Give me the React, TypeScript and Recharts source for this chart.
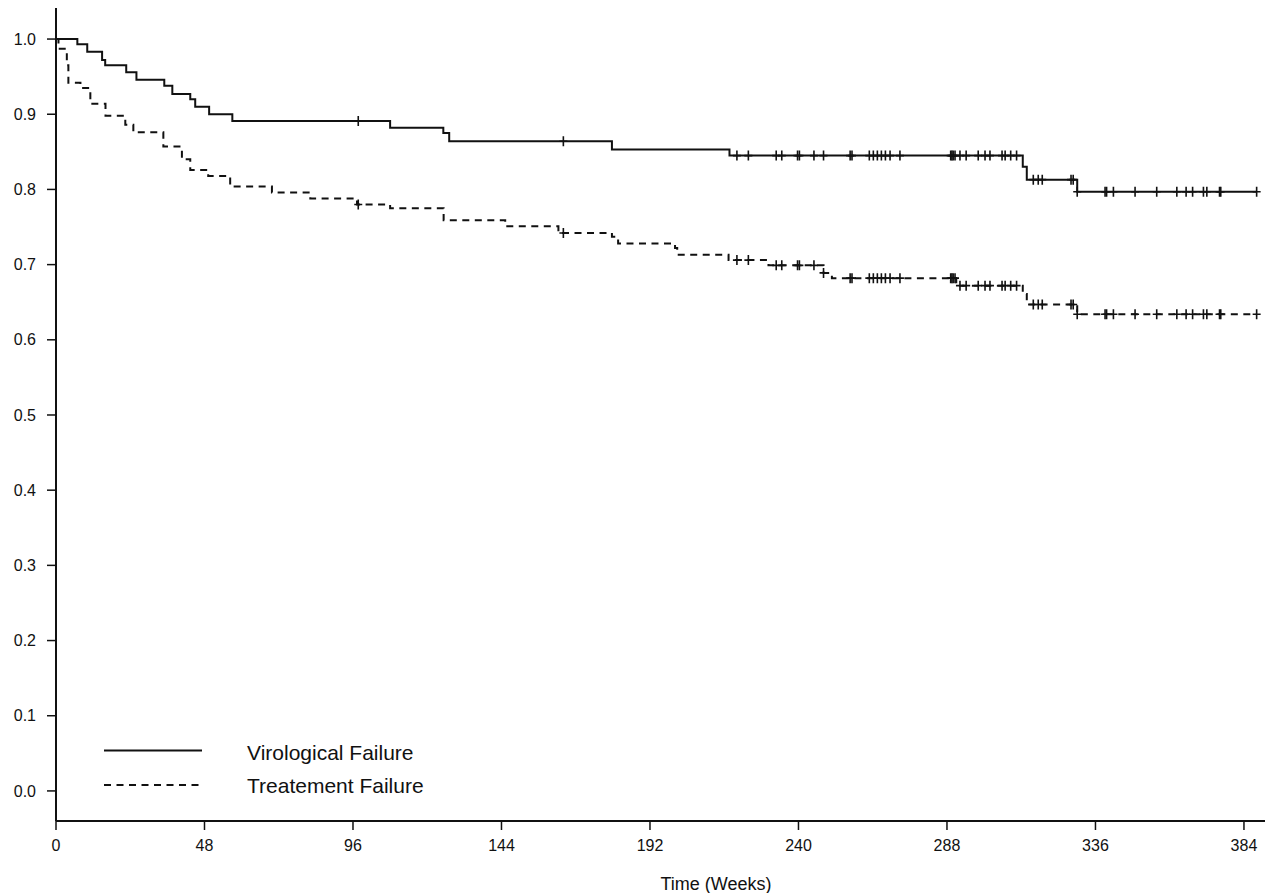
import React from "react";
import { ComposedChart, Line, Scatter, XAxis, YAxis } from "recharts";

// Virological Failure (solid) – Kaplan–Meier step points
const vfTimes = [0, 6.9, 10.1, 14.9, 15.9, 22.7, 26.0, 35.0, 37.6, 43.4, 45.0, 49.5, 57.0, 108.0, 125.2, 127.1, 179.7, 217.7, 312.5, 313.8, 330.1, 388.1];
const vfSurv = [1.0, 0.993, 0.983, 0.972, 0.965, 0.956, 0.946, 0.938, 0.927, 0.92, 0.91, 0.9, 0.891, 0.882, 0.875, 0.864, 0.853, 0.845, 0.83, 0.813, 0.797, 0.797];

// Treatement Failure (dashed) – Kaplan–Meier step points
const tfTimes = [0, 0.8, 3.5, 4.0, 7.9, 11.1, 16.0, 22.4, 25.0, 34.7, 40.7, 43.4, 49.2, 56.3, 69.8, 82.2, 97.3, 108.0, 125.3, 145.2, 162.4, 179.7, 181.7, 200.1, 200.8, 217.4, 230.3, 248.1, 250.8, 291.0, 312.5, 313.8, 330.1, 388.1];
const tfSurv = [1.0, 0.987, 0.965, 0.942, 0.935, 0.914, 0.898, 0.886, 0.876, 0.857, 0.84, 0.826, 0.818, 0.804, 0.796, 0.788, 0.78, 0.775, 0.759, 0.751, 0.742, 0.737, 0.728, 0.722, 0.713, 0.706, 0.699, 0.689, 0.682, 0.672, 0.661, 0.647, 0.634, 0.634];

// Censoring times (shared by both curves)
const censorTimes = [97.7, 164.0, 220.1, 223.8, 232.8, 234.6, 239.7, 240.3, 245.0, 248.1, 256.7, 257.3, 262.9, 264.2, 265.5, 266.8, 268.1, 269.6, 272.8, 289.2, 289.6, 290.0, 290.6, 292.2, 294.2, 298.1, 300.3, 301.9, 305.8, 306.8, 308.6, 310.5, 315.9, 317.5, 318.8, 328.1, 328.8, 330.1, 339.1, 339.6, 341.8, 348.8, 355.8, 362.3, 365.3, 367.4, 370.9, 372.0, 376.1, 376.5, 388.1];

const xTicks = [0, 48, 96, 144, 192, 240, 288, 336, 384];
const yTicks = [0, 0.1, 0.2, 0.3, 0.4, 0.5, 0.6, 0.7, 0.8, 0.9, 1.0];

const seriesNames = ["Virological Failure", "Treatement Failure"];

const toPoints = (times: number[], surv: number[]) => times.map((t, i) => ({ t, s: surv[i] }));
const levelAt = (times: number[], surv: number[], t: number) => {
  let v = surv[0];
  for (let i = 0; i < times.length; i++) if (times[i] <= t) v = surv[i];
  return v;
};

const vfData = toPoints(vfTimes, vfSurv);
const tfData = toPoints(tfTimes, tfSurv);
const vfCensor = censorTimes.map((t) => ({ t, s: levelAt(vfTimes, vfSurv, t) }));
const tfCensor = censorTimes.map((t) => ({ t, s: levelAt(tfTimes, tfSurv, t) }));

const INK = "#111";
const FONT = "'Liberation Sans', Arial, Helvetica, sans-serif";

const Plus = (props: any) => {
  const { cx, cy } = props;
  if (cx == null || cy == null) return null;
  return <path d={`M${cx - 4},${cy}h8M${cx},${cy - 5}v10`} stroke={INK} strokeWidth={1.6} fill="none" />;
};

export default function App() {
  return (
    <div style={{ position: "absolute", left: 0, top: 0, width: 1274, height: 893, background: "#fff", fontFamily: FONT }}>
      <ComposedChart width={1274} height={893} margin={{ top: 8, right: 9, bottom: 0, left: 0 }}>
        <XAxis
          dataKey="t"
          type="number"
          domain={[0, 390.8]}
          ticks={xTicks}
          allowDataOverflow
          height={72}
          tickSize={9}
          tickMargin={10}
          axisLine={{ stroke: INK, strokeWidth: 2 }}
          tickLine={{ stroke: INK, strokeWidth: 1.5 }}
          tick={{ fill: INK, fontSize: 16, fontFamily: FONT }}
        />
        <YAxis
          dataKey="s"
          type="number"
          domain={[-0.04, 1.0413]}
          ticks={yTicks}
          allowDataOverflow
          width={56}
          tickSize={9}
          tickMargin={11}
          tickFormatter={(v: number) => v.toFixed(1)}
          axisLine={{ stroke: INK, strokeWidth: 2 }}
          tickLine={{ stroke: INK, strokeWidth: 1.5 }}
          tick={{ fill: INK, fontSize: 16, fontFamily: FONT }}
        />
        <Line
          data={vfData}
          dataKey="s"
          name={seriesNames[0]}
          type="stepAfter"
          stroke={INK}
          strokeWidth={2}
          dot={false}
          activeDot={false}
          isAnimationActive={false}
        />
        <Line
          data={tfData}
          dataKey="s"
          name={seriesNames[1]}
          type="stepAfter"
          stroke={INK}
          strokeWidth={2}
          strokeDasharray="7 5.5"
          dot={false}
          activeDot={false}
          isAnimationActive={false}
        />
        <Scatter data={vfCensor} dataKey="s" shape={Plus} isAnimationActive={false} />
        <Scatter data={tfCensor} dataKey="s" shape={Plus} isAnimationActive={false} />
      </ComposedChart>
      <svg
        width={1274}
        height={893}
        style={{ position: "absolute", left: 0, top: 0, pointerEvents: "none" }}
      >
        <line x1={104} y1={750.5} x2={202} y2={750.5} stroke={INK} strokeWidth={2} />
        <text x={247} y={760} fontSize={21} fill={INK} fontFamily={FONT}>
          {seriesNames[0]}
        </text>
        <line x1={104} y1={785} x2={202} y2={785} stroke={INK} strokeWidth={2} strokeDasharray="7 5.5" />
        <text x={247} y={792.5} fontSize={21} fill={INK} fontFamily={FONT}>
          {seriesNames[1]}
        </text>
        <text x={716} y={890} fontSize={18} fill={INK} fontFamily={FONT} textAnchor="middle">
          Time (Weeks)
        </text>
      </svg>
    </div>
  );
}
